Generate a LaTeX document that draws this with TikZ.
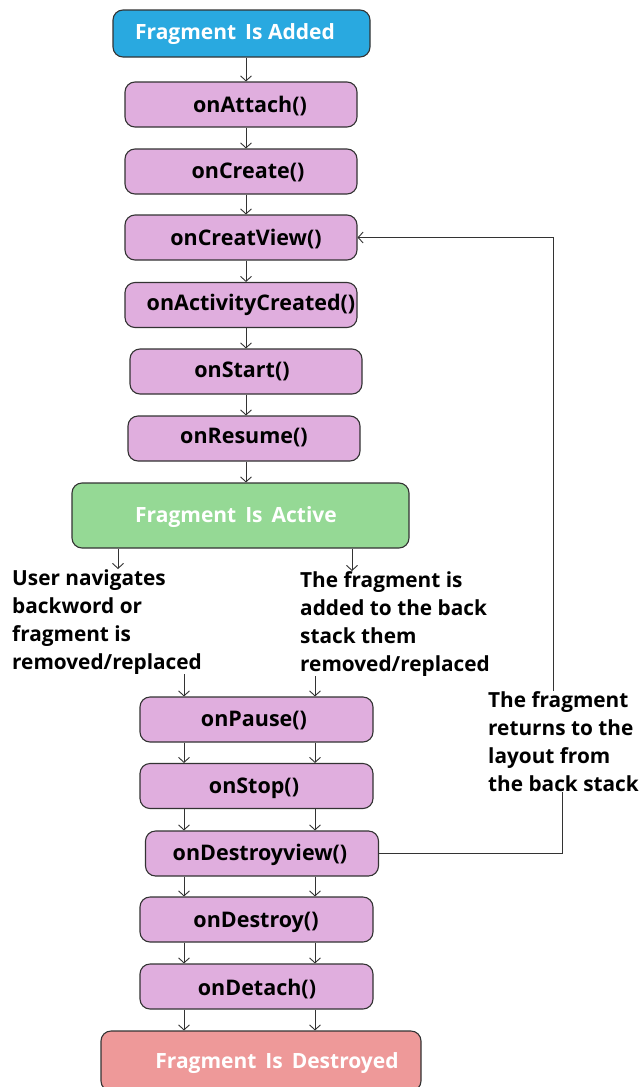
\documentclass[tikz,border=0pt]{standalone}
\usepackage{fontspec}
\setmainfont{Open Sans}
\usetikzlibrary{arrows.meta}
\definecolor{addblue}{HTML}{29A9E0}
\definecolor{stepfill}{HTML}{E0AEDE}
\definecolor{actgreen}{HTML}{95D995}
\definecolor{destred}{HTML}{EE9999}
\definecolor{edge}{HTML}{333333}
\tikzset{
  x=1pt, y=-1pt,
  box/.style={draw=edge, line width=1.1pt, rounded corners=10pt, inner sep=0pt},
  stepbox/.style={box, fill=stepfill, minimum width=232pt, minimum height=45pt},
  boxtext/.style={inner sep=0pt, yshift=-2pt, font=\fontsize{21.5}{24}\selectfont\bfseries},
  statetext/.style={boxtext, text=white, font=\fontsize{21}{24}\selectfont\bfseries},
  note/.style={inner sep=0pt, anchor=north west, align=left, font=\fontsize{20.8}{28}\selectfont\bfseries},
  arr/.style={draw=edge, line width=0.9pt, -{Straight Barb[length=5pt,width=11pt]}},
  wire/.style={draw=edge, line width=0.9pt},
}
\begin{document}
\begin{tikzpicture}
\useasboundingbox (0,0) rectangle (640,1087);

% lifecycle states and callbacks
\node[box, fill=addblue, minimum width=257pt, minimum height=47pt] (added) at (241.5,33.5) {};
\node[stepbox] (attach) at (241,104.5) {};
\node[stepbox] (create) at (241,171.5) {};
\node[stepbox] (creatview) at (241,237.5) {};
\node[stepbox] (activity) at (241,305) {};
\node[stepbox] (start) at (246,371.5) {};
\node[stepbox] (resume) at (244,438.5) {};
\node[box, fill=actgreen, minimum width=337pt, minimum height=65pt] (active) at (240.5,515.5) {};
\node[stepbox, minimum width=233pt] (pause) at (256.5,719.5) {};
\node[stepbox, minimum width=233pt] (stop) at (256.5,786) {};
\node[stepbox, minimum width=233pt] (destroyview) at (262,853.5) {};
\node[stepbox, minimum width=233pt] (destroy) at (256.5,919.5) {};
\node[stepbox, minimum width=233pt] (detach) at (256.5,986.5) {};
\node[box, fill=destred, minimum width=320pt, minimum height=60pt] (destroyed) at (261,1061) {};

% box captions
\node[statetext] (tadded) at (235,32) {Fragment\, Is Added};
\node[boxtext] (tattach) at (250,104) {onAttach()};
\node[boxtext] (tcreate) at (248,170) {onCreate()};
\node[boxtext] (tcreatview) at (246,237) {onCreatView()};
\node[boxtext] (tactivity) at (251,303) {onActivityCreated()};
\node[boxtext] (tstart) at (242,369) {onStart()};
\node[boxtext] (tresume) at (244,436) {onResume()};
\node[statetext] (tactive) at (236,515) {Fragment\, Is\, Active};
\node[boxtext] (tpause) at (254,719) {onPause()};
\node[boxtext] (tstop) at (254,786) {onStop()};
\node[boxtext] (tdestroyview) at (260,853) {onDestroyview()};
\node[boxtext] (tdestroy) at (256,920) {onDestroy()};
\node[boxtext] (tdetach) at (257,987) {onDetach()};
\node[statetext] (tdestroyed) at (277,1061) {Fragment\, Is\, Destroyed};

% branch notes
\node[note] (leftnote) at (12,569) {User navigates\\backword or\\fragment is\\removed/replaced};
\node[note] (rightnote) at (300,571) {The fragment is\\added to the back\\stack them\\removed/replaced};
\node[note] (returnnote) at (488,691) {The fragment\\returns to the\\layout from\\the back stack};

% main column
\coordinate (c) at (246,0);
\draw[arr] (added.south -| c) -- (attach.north -| c);
\draw[arr] (attach.south -| c) -- (create.north -| c);
\draw[arr] (create.south -| c) -- (creatview.north -| c);
\draw[arr] (creatview.south -| c) -- (activity.north -| c);
\draw[arr] (activity.south -| c) -- (start.north -| c);
\draw[arr] (start.south -| c) -- (resume.north -| c);
\draw[arr] (resume.south -| c) -- (active.north -| c);

% the two ways out of the active state
\coordinate (bl) at (118,0);
\coordinate (br) at (352,0);
\draw[arr] (active.south -| bl) -- (leftnote.north -| bl);
\draw[arr] (active.south -| br) -- (rightnote.north -| br);

\coordinate (l) at (184,0);
\coordinate (r) at (315,0);
\draw[arr] (leftnote.south -| l) -- (pause.north -| l);
\draw[arr] (rightnote.south -| r) -- (pause.north -| r);
\foreach \a/\b in {pause/stop, stop/destroyview, destroyview/destroy, destroy/detach, detach/destroyed}{
  \draw[arr] (\a.south -| l) -- (\b.north -| l);
  \draw[arr] (\a.south -| r) -- (\b.north -| r);
}

% return from the back stack
\coordinate (lo) at (562,0);
\coordinate (hi) at (553,0);
\draw[wire] (destroyview.east) -- (destroyview.east -| lo) -- (returnnote.south -| lo);
\draw[arr] (returnnote.north -| hi) -- (creatview.east -| hi) -- (creatview.east);
\end{tikzpicture}
\end{document}
